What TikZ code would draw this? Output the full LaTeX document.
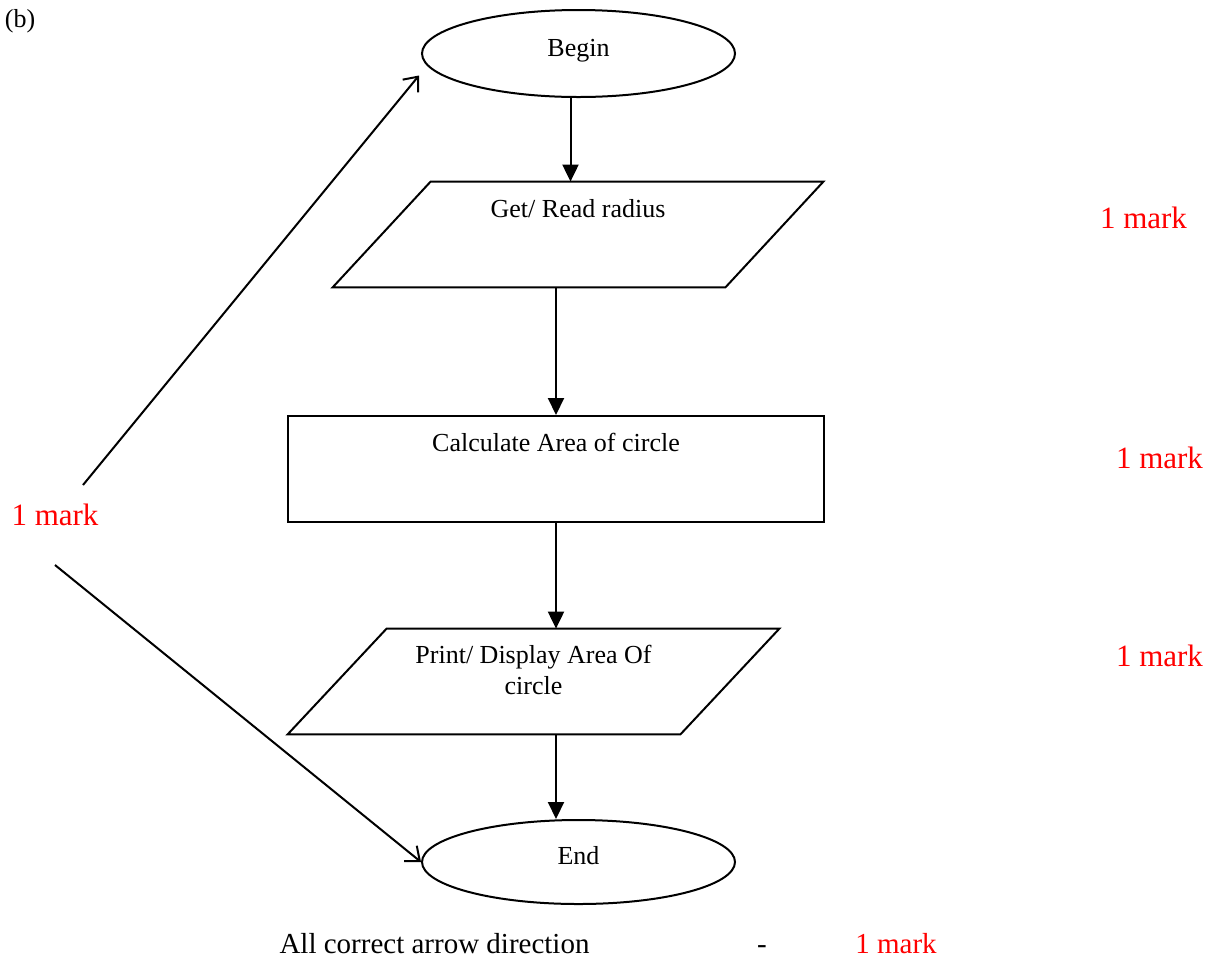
\documentclass[tikz,border=0pt]{standalone}
\usepackage{fontspec}
\setmainfont{Liberation Serif}
\usetikzlibrary{shapes.geometric,arrows.meta}
\newcommand\fcNode{\fontsize{13pt}{15.6pt}\selectfont}
\newcommand\fcMark{\fontsize{15.5pt}{18.6pt}\selectfont}
\newcommand\fcFoot{\fontsize{14.5pt}{17.4pt}\selectfont}
\begin{document}
\begin{tikzpicture}[x=0.5pt,y=-0.5pt,
  shp/.style={draw,line width=1pt,inner sep=0pt,font=\fcNode},
  term/.style={shp,ellipse,minimum width=156.5pt,text height=6pt,text depth=3.5pt},
  iobox/.style={inner sep=0pt,font=\fcNode,rectangle,minimum width=196pt,minimum height=52.5pt},
  ioline/.style={draw,line width=1pt,line join=miter},
  proc/.style={shp,rectangle,minimum width=268pt,minimum height=53pt,
    text height=9pt,text depth=26.5pt},
  flow/.style={line width=1pt,-{Triangle[width=8pt,length=8.5pt]}},
  diag/.style={line width=1pt,-{Straight Barb[length=6pt,width=10pt,line width=1pt]}},
  redmark/.style={text=red,font=\fcMark,anchor=base,inner sep=0pt},
  plain/.style={font=\fcNode,anchor=base,inner sep=0pt},
  foot/.style={font=\fcFoot,anchor=base,inner sep=0pt}]
\useasboundingbox (0,0) rectangle (1215,960);

% flowchart shapes
\node[term,minimum height=43.5pt] (begin) at (578.5,53.5) {Begin};
\node[iobox,text height=9pt,text depth=26.5pt] (p1) at (578,234.5) {Get/ Read radius};
\draw[ioline] ([xshift=24.5pt]p1.north west) -- ([xshift=24.5pt]p1.north east)
  -- ([xshift=-24.5pt]p1.south east) -- ([xshift=-24.5pt]p1.south west) -- cycle;
\node[proc] (calc) at (556,469) {Calculate Area of circle};
\node[iobox,text height=9pt,text depth=27.5pt] (p2) at (533.5,681.5)
  {\begin{tabular}[t]{@{}c@{}}Print/ Display Area Of\\circle\end{tabular}};
\draw[ioline] ([xshift=24.75pt]p2.north west) -- ([xshift=24.75pt]p2.north east)
  -- ([xshift=-24.75pt]p2.south east) -- ([xshift=-24.75pt]p2.south west) -- cycle;
\node[term,minimum height=42pt] (end) at (578.5,862) {End};

% flow arrows
\draw[flow] ([xshift=-4pt]begin.south) -- ([xshift=-4pt]begin.south |- p1.north);
\draw[flow] (p1.south -| calc.north) -- (calc.north);
\draw[flow] (calc.south) -- (calc.south |- p2.north);
\draw[flow] (p2.south -| calc.south) -- (calc.south |- end.north);

% labels
\node[plain] (b) at (20,27) {(b)};
\node[redmark] (mleft) at (55,525) {1 mark};
\node[redmark] (m1) at (1143.5,228) {1 mark};
\node[redmark] (m2) at (1159.5,468) {1 mark};
\node[redmark] (m3) at (1159.5,666) {1 mark};
\node[foot] (allc) at (434.5,953) {All correct arrow direction};
\node[foot] (dash) at (762,953) {-};
\node[redmark,font=\fcFoot] (mfoot) at (896,953) {1 mark};

% diagonal arrows
\coordinate (d1) at (83,485);
\coordinate (d2) at (55,565);
\draw[diag] (d1) -- ([yshift=-11pt,xshift=-1pt]begin.west);
\draw[diag] (d2) -- (end.west);
\end{tikzpicture}
\end{document}
